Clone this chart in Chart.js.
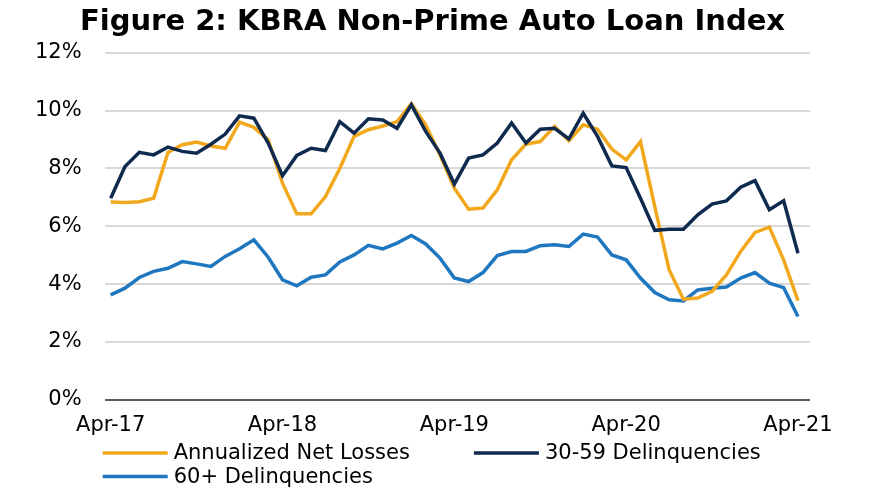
<!DOCTYPE html>
<html>
<head>
<meta charset="utf-8">
<script src="https://cdn.jsdelivr.net/npm/chart.js@4"></script>
<style>
  html, body { margin: 0; padding: 0; background: #fff; }
  #wrap { width: 880px; height: 495px; }
</style>
</head>
<body>
<div id="wrap"><canvas id="kbra-chart"></canvas></div>
<script>
// Monthly index, Apr-17 .. Apr-21 (49 months)
const tickIdx = [0, 12, 24, 36, 48];
const tickLabels = ["Apr-17", "Apr-18", "Apr-19", "Apr-20", "Apr-21"];
const yTicks = [0, 2, 4, 6, 8, 10, 12];

const netLosses = [
  6.84, 6.82, 6.85, 6.97, 8.55, 8.82, 8.91, 8.78, 8.70, 9.60, 9.42, 8.99,
  7.49, 6.43, 6.43, 7.03, 8.00, 9.11, 9.34, 9.47, 9.62, 10.24, 9.51, 8.47,
  7.32, 6.59, 6.63, 7.26, 8.30, 8.84, 8.93, 9.45, 8.96, 9.51, 9.36, 8.67,
  8.30, 8.93, 6.68, 4.50, 3.48, 3.52, 3.75, 4.32, 5.13, 5.79, 5.97, 4.84,
  3.43
];
const del3059 = [
  6.97, 8.07, 8.56, 8.47, 8.74, 8.59, 8.53, 8.84, 9.19, 9.82, 9.74, 8.88,
  7.75, 8.45, 8.70, 8.62, 9.62, 9.22, 9.72, 9.68, 9.39, 10.20, 9.28, 8.53,
  7.46, 8.36, 8.47, 8.88, 9.57, 8.88, 9.36, 9.39, 9.02, 9.91, 9.11, 8.09,
  8.03, 6.97, 5.86, 5.90, 5.90, 6.40, 6.77, 6.88, 7.35, 7.58, 6.57, 6.88,
  5.07
];
const del60 = [
  3.63, 3.86, 4.23, 4.44, 4.55, 4.78, 4.70, 4.61, 4.96, 5.22, 5.53, 4.93,
  4.15, 3.94, 4.24, 4.32, 4.77, 5.01, 5.34, 5.22, 5.42, 5.68, 5.39, 4.90,
  4.21, 4.09, 4.40, 4.99, 5.13, 5.13, 5.33, 5.36, 5.30, 5.73, 5.63, 5.01,
  4.84, 4.21, 3.71, 3.46, 3.42, 3.80, 3.86, 3.90, 4.21, 4.40, 4.03, 3.88,
  2.88
];

const FONT = '"DejaVu Sans", Verdana, sans-serif';
const TEXT_SIZE = 21;

function toPoints(arr) {
  return arr.map((v, i) => ({ x: i, y: v }));
}

// Legend drawn under the axis, left-aligned with the plot, wrapping at the plot's right edge
const bottomLegend = {
  id: "bottomLegend",
  afterDraw(chart) {
    const { ctx, chartArea } = chart;
    const lineLen = 65;
    ctx.save();
    ctx.font = TEXT_SIZE + "px " + FONT;
    ctx.textBaseline = "middle";
    ctx.textAlign = "left";
    let x = chartArea.left - 2;
    let y = chart.height - 42;
    chart.data.datasets.forEach((ds) => {
      const w = lineLen + 6 + ctx.measureText(ds.label).width;
      if (x > chartArea.left && x + w > chartArea.right) {
        x = chartArea.left - 2;
        y += 23.5;
      }
      ctx.strokeStyle = ds.borderColor;
      ctx.lineWidth = 3.5;
      ctx.beginPath();
      ctx.moveTo(x, y);
      ctx.lineTo(x + lineLen, y);
      ctx.stroke();
      ctx.fillStyle = "#000";
      ctx.fillText(ds.label, x + lineLen + 6, y + 1);
      x += w + 64;
    });
    ctx.restore();
  },
};

const ctx = document.getElementById("kbra-chart").getContext("2d");
window.kbraChart = new Chart(ctx, {
  type: "line",
  data: {
    datasets: [
      {
        label: "Annualized Net Losses",
        data: toPoints(netLosses),
        borderColor: "#f2a81d",
        borderWidth: 3.5,
        pointRadius: 0,
        order: 2,
      },
      {
        label: "30-59 Delinquencies",
        data: toPoints(del3059),
        borderColor: "#0f2a4f",
        borderWidth: 3.5,
        pointRadius: 0,
        order: 1,
      },
      {
        label: "60+ Delinquencies",
        data: toPoints(del60),
        borderColor: "#1f77c0",
        borderWidth: 3.5,
        pointRadius: 0,
        order: 3,
      },
    ],
  },
  options: {
    responsive: true,
    maintainAspectRatio: false,
    animation: false,
    layout: {
      padding: { left: 12, right: 27, top: 0, bottom: 44 },
    },
    scales: {
      x: {
        type: "linear",
        min: -0.42,
        max: 48.84,
        afterBuildTicks: (axis) => {
          axis.ticks = tickIdx.map((v) => ({ value: v }));
        },
        grid: { display: false, drawTicks: false },
        border: { display: false },
        ticks: {
          autoSkip: false,
          maxRotation: 0,
          padding: 13,
          color: "#000",
          font: { family: FONT, size: TEXT_SIZE },
          callback: (value) => tickLabels[tickIdx.indexOf(value)],
        },
      },
      y: {
        min: 0,
        max: 12,
        afterBuildTicks: (axis) => {
          axis.ticks = yTicks.map((v) => ({ value: v }));
        },
        grid: {
          drawTicks: false,
          lineWidth: 2,
          color: (c) => (c.tick && c.tick.value === 0 ? "#595959" : "#d9d9d9"),
        },
        border: { display: false },
        ticks: {
          padding: 23,
          color: "#000",
          font: { family: FONT, size: TEXT_SIZE },
          callback: (value) => value + "%",
        },
      },
      // empty right-hand gutter so the title centres like the original
      gutter: {
        type: "linear",
        position: "right",
        grid: { display: false },
        border: { display: false },
        ticks: { display: false },
        afterFit: (axis) => {
          axis.width = 43;
        },
      },
    },
    plugins: {
      title: {
        display: true,
        text: "Figure 2: KBRA Non-Prime Auto Loan Index",
        color: "#000",
        font: { family: FONT, size: 29, weight: "bold" },
        padding: { top: 5, bottom: 13 },
      },
      legend: { display: false },
      tooltip: { enabled: false },
    },
  },
  plugins: [bottomLegend],
});
</script>
</body>
</html>
